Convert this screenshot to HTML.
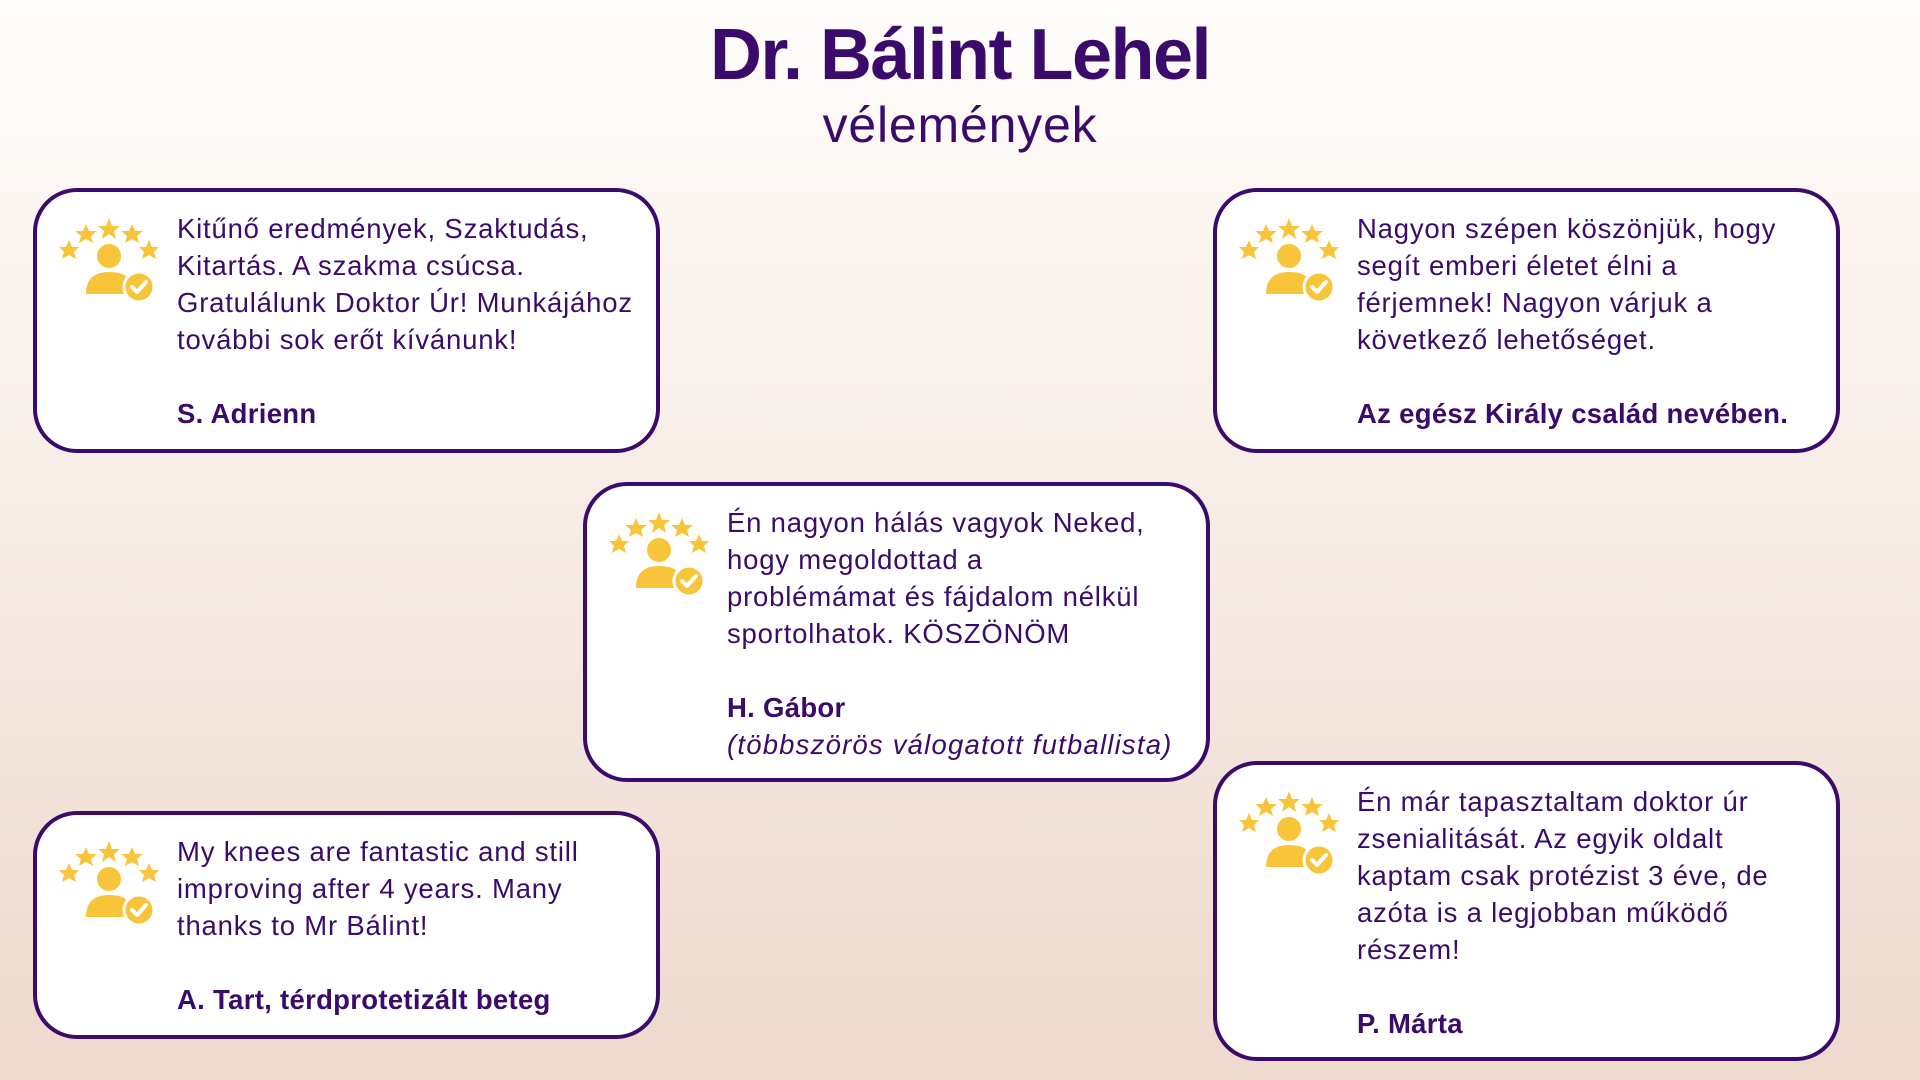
<!DOCTYPE html>
<html><head><meta charset="utf-8"><style>
body{margin:0;width:1920px;height:1080px;overflow:hidden;background:linear-gradient(#fffdfb 0%,#f8efe9 40%,#edd9cd 100%);font-family:"Liberation Sans",sans-serif;color:#3b0b6b;position:relative}
h1{position:absolute;top:14px;left:0;width:1920px;text-align:center;margin:0;font-size:72px;font-weight:bold;letter-spacing:-1.5px;color:#3b0b6b}
.sub{position:absolute;top:96px;left:0;width:1920px;text-align:center;font-size:50px;letter-spacing:0.8px;color:#3b0b6b}
.box{position:absolute;background:#fff;border:4px solid #3b0b6b;border-radius:44px;box-sizing:border-box}
.t{position:absolute;left:140px;top:18px;font-size:27.5px;line-height:37px;white-space:nowrap;letter-spacing:0.8px}
.t b{font-weight:bold;letter-spacing:0.3px}
.t i{letter-spacing:1.2px}
.ic{position:absolute;left:22px;top:24px;width:100px;height:88px}
</style></head><body>
<h1>Dr. Bálint Lehel</h1>
<div class="sub">vélemények</div>

<svg width="0" height="0" style="position:absolute"><defs>
<g id="icn">
<polygon fill="#f8c43a" points="50,2 53,10 61,10 55,15 57,23 50,18 43,23 45,15 39,10 47,10"/>
<polygon fill="#f8c43a" points="27,8 30,15 38,15 32,20 34,27 27,23 20,27 22,20 16,15 24,15"/>
<polygon fill="#f8c43a" points="73,8 76,15 84,15 78,20 80,27 73,23 66,27 68,20 62,15 70,15"/>
<polygon fill="#f8c43a" points="10,24 13,31 20,31 15,36 17,43 10,39 3,43 5,36 0,31 7,31"/>
<polygon fill="#f8c43a" points="90,24 93,31 100,31 95,36 97,43 90,39 83,43 85,36 80,31 87,31"/>
<circle cx="50" cy="40" r="12" fill="#f8c43a"/>
<path d="M27 78 Q27 56 50 56 Q66 56 70 64 L70 78 Z" fill="#f8c43a"/>
<circle cx="80" cy="71" r="15" fill="#f8c43a" stroke="#fff" stroke-width="3"/>
<path d="M73 71 L78 76 L87 66" fill="none" stroke="#fff" stroke-width="4" stroke-linecap="round" stroke-linejoin="round"/>
</g></defs></svg>

<div class="box" style="left:33px;top:188px;width:627px;height:265px">
<svg class="ic" viewBox="0 0 100 88"><use href="#icn"/></svg>
<div class="t">Kitűnő eredmények, Szaktudás,<br>Kitartás. A szakma csúcsa.<br>Gratulálunk Doktor Úr! Munkájához<br>további sok erőt kívánunk!<br><br><b>S. Adrienn</b></div></div>

<div class="box" style="left:1213px;top:188px;width:627px;height:265px">
<svg class="ic" viewBox="0 0 100 88"><use href="#icn"/></svg>
<div class="t">Nagyon szépen köszönjük, hogy<br>segít emberi életet élni a<br>férjemnek! Nagyon várjuk a<br>következő lehetőséget.<br><br><b>Az egész Király család nevében.</b></div></div>

<div class="box" style="left:583px;top:482px;width:627px;height:300px">
<svg class="ic" viewBox="0 0 100 88"><use href="#icn"/></svg>
<div class="t">Én nagyon hálás vagyok Neked,<br>hogy megoldottad a<br>problémámat és fájdalom nélkül<br>sportolhatok. KÖSZÖNÖM<br><br><b>H. Gábor</b><br><i>(többszörös válogatott futballista)</i></div></div>

<div class="box" style="left:33px;top:811px;width:627px;height:228px">
<svg class="ic" viewBox="0 0 100 88"><use href="#icn"/></svg>
<div class="t">My knees are fantastic and still<br>improving after 4 years. Many<br>thanks to Mr Bálint!<br><br><b>A. Tart, térdprotetizált beteg</b></div></div>

<div class="box" style="left:1213px;top:761px;width:627px;height:300px">
<svg class="ic" viewBox="0 0 100 88"><use href="#icn"/></svg>
<div class="t">Én már tapasztaltam doktor úr<br>zsenialitását. Az egyik oldalt<br>kaptam csak protézist 3 éve, de<br>azóta is a legjobban működő<br>részem!<br><br><b>P. Márta</b></div></div>
</body></html>
